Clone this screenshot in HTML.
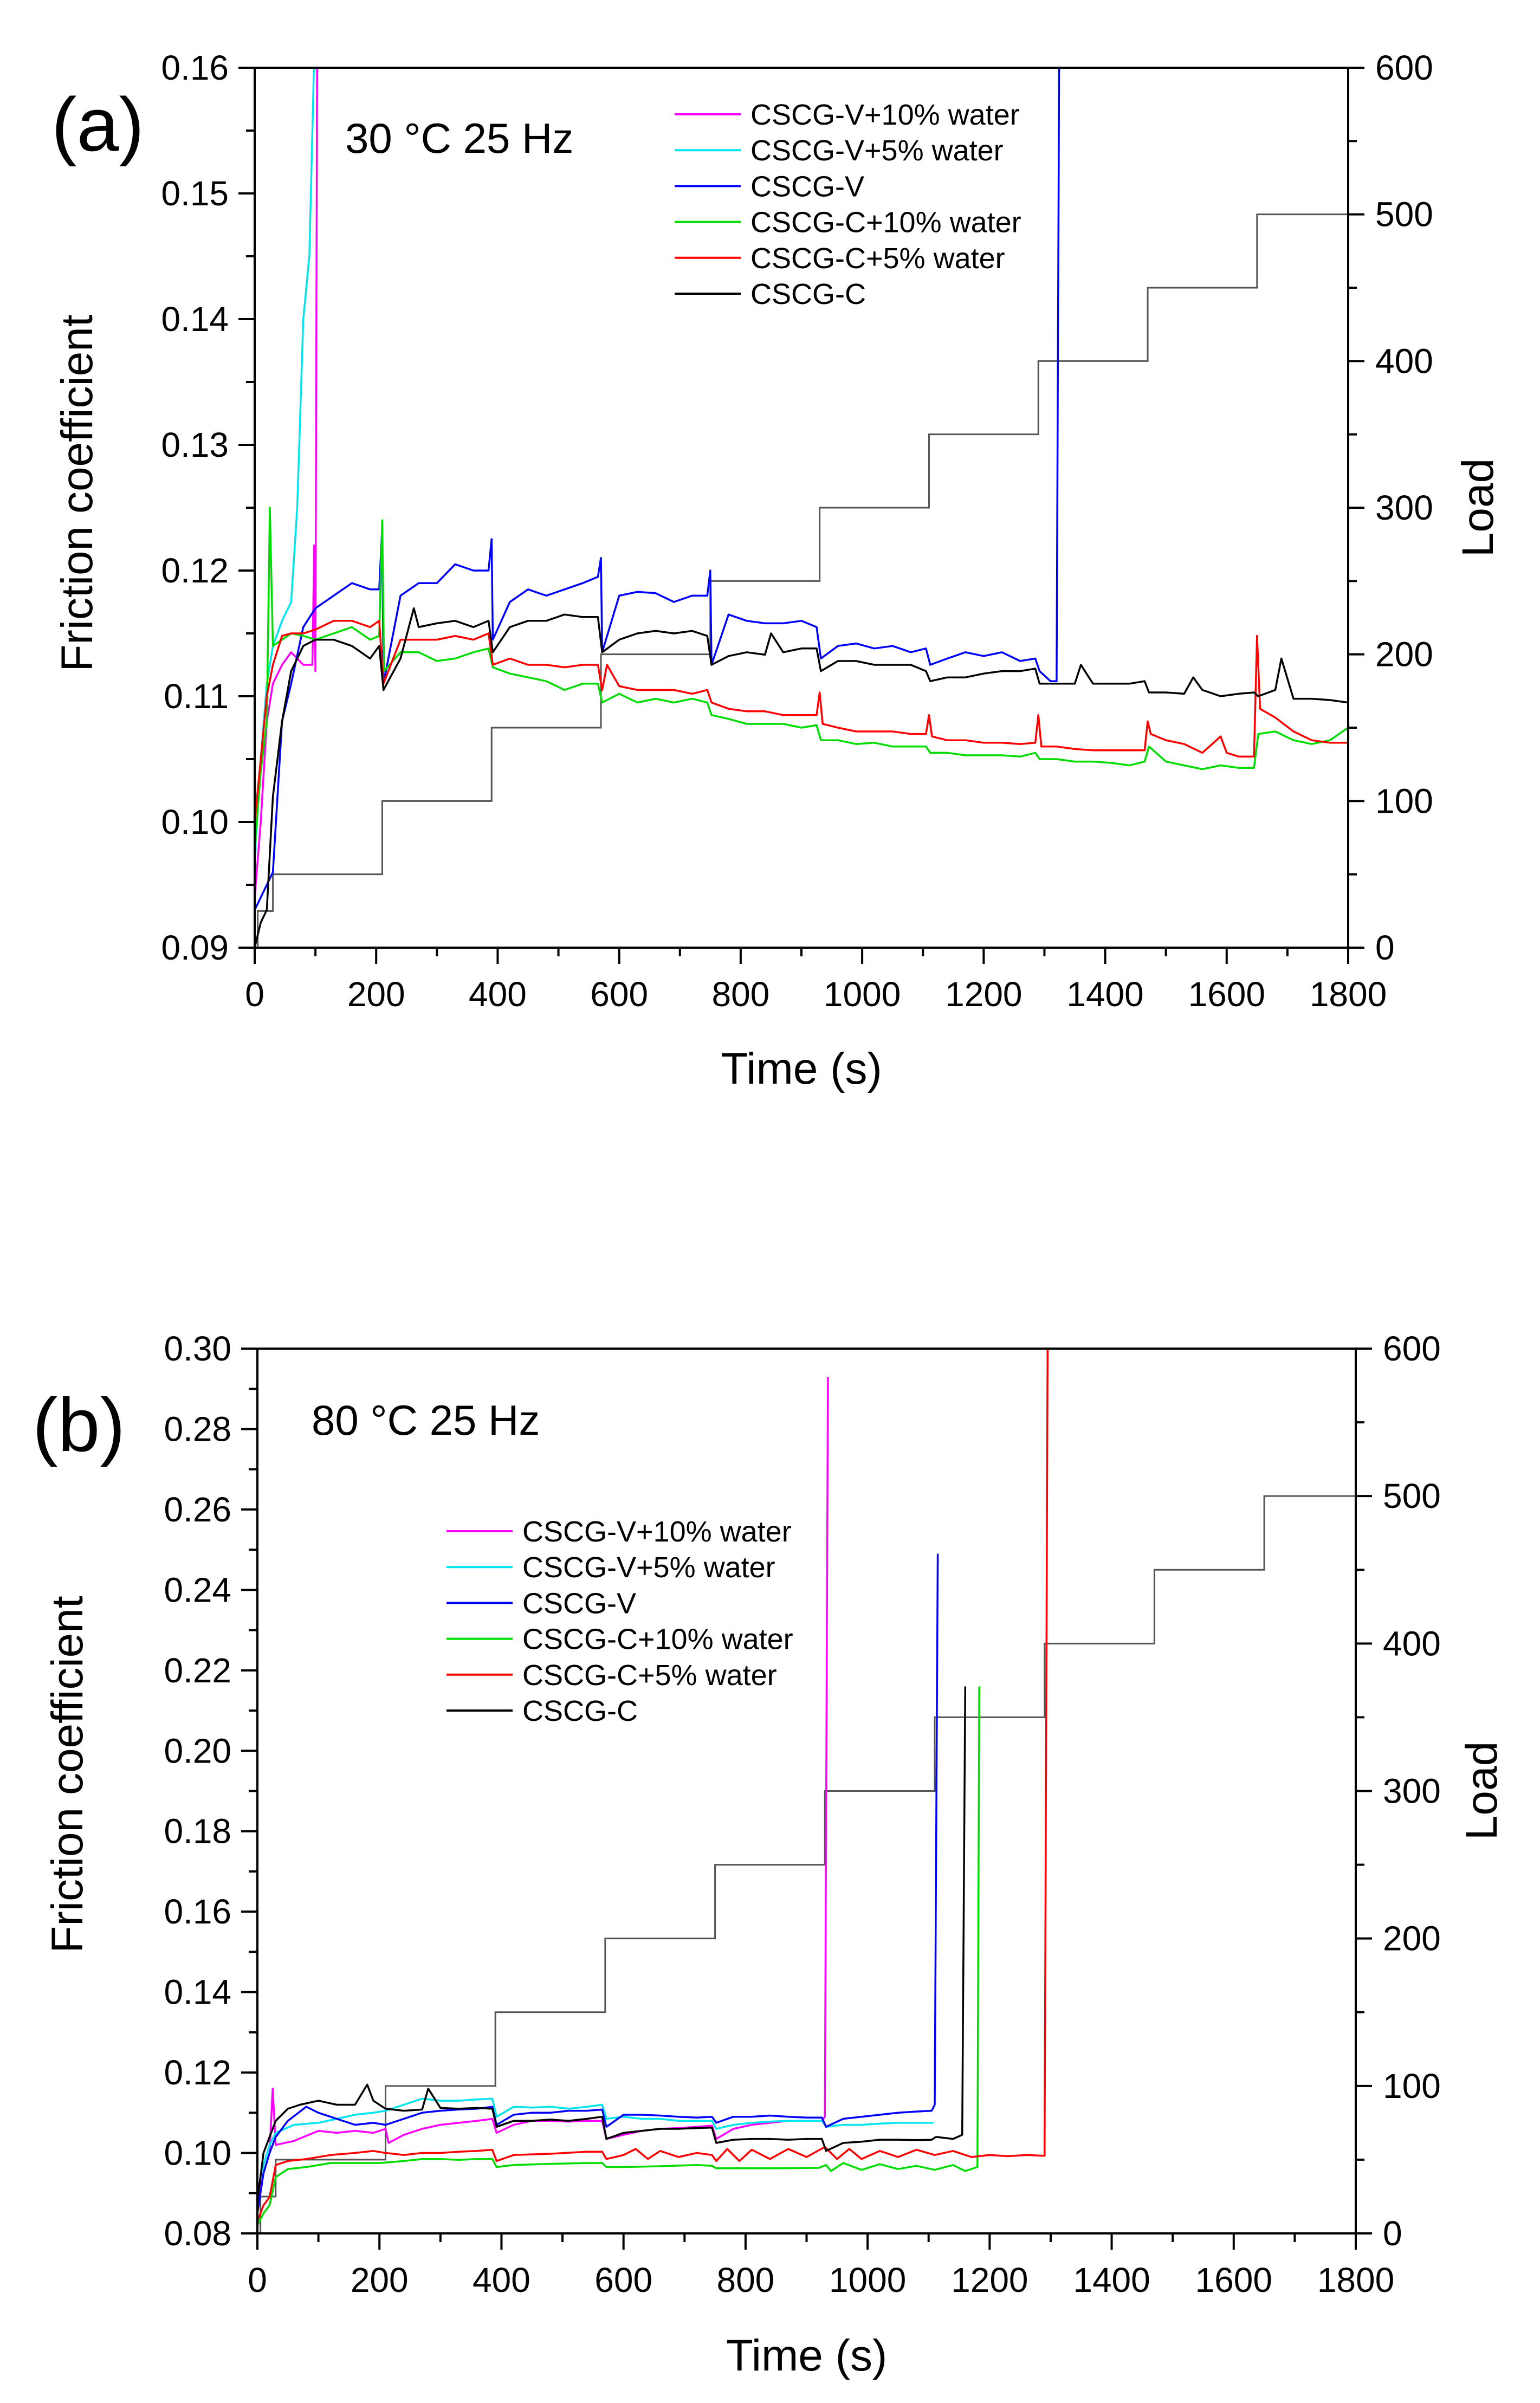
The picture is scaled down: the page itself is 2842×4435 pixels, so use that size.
<!DOCTYPE html>
<html><head><meta charset="utf-8"><title>Friction coefficient vs time</title>
<style>html,body{margin:0;padding:0;background:#fff;}svg{display:block;}</style></head>
<body>
<svg id="fig" xmlns="http://www.w3.org/2000/svg" width="2842" height="4435" viewBox="0 0 2842 4435" font-family="'Liberation Sans', Arial, sans-serif">
<rect width="2842" height="4435" fill="#fff"/>
</svg>
<script>
const xTicks = [0,200,400,600,800,1000,1200,1400,1600,1800];
const aYTicks = [0.09,0.10,0.11,0.12,0.13,0.14,0.15,0.16];
const bYTicks = [0.08,0.10,0.12,0.14,0.16,0.18,0.20,0.22,0.24,0.26,0.28,0.30];
const loadTicks = [0,100,200,300,400,500,600];
const seriesNames = ["CSCG-V+10% water","CSCG-V+5% water","CSCG-V","CSCG-C+10% water","CSCG-C+5% water","CSCG-C"];
const seriesColors = ["#ff00ff","#00e5ee","#0000ff","#00dd00","#ff0000","#000000"];

const aLoadT = [0,5,30,210,390,570,750,930,1110,1290,1470,1650,1800];
const aLoadV = [0,25,50,100,150,200,250,300,350,400,450,500,500];
const bLoadT = [0,5,30,210,390,570,750,930,1110,1290,1470,1650,1800];
const bLoadV = [0,25,50,100,150,200,250,300,350,400,450,500,500];

const aCT = [0,10,20,30,45,60,80,100,130,160,190,205,212,240,262,270,300,330,360,385,392,420,450,480,510,540,565,572,600,630,660,690,720,745,752,780,810,840,850,870,900,925,932,960,990,1020,1050,1080,1105,1112,1140,1170,1200,1230,1260,1285,1292,1320,1350,1360,1380,1410,1440,1465,1472,1500,1530,1545,1560,1590,1620,1645,1652,1680,1690,1710,1740,1770,1800];
const aCV = [0.090,0.092,0.093,0.102,0.108,0.112,0.114,0.1145,0.1145,0.114,0.113,0.114,0.1105,0.113,0.117,0.1155,0.1158,0.116,0.1155,0.116,0.1135,0.1155,0.116,0.116,0.1165,0.1163,0.1163,0.1135,0.1145,0.115,0.1152,0.115,0.1152,0.1148,0.1125,0.1132,0.1135,0.1133,0.115,0.1135,0.1138,0.1138,0.112,0.1128,0.1128,0.1125,0.1125,0.1125,0.112,0.1112,0.1115,0.1115,0.1118,0.112,0.112,0.1122,0.111,0.111,0.111,0.1125,0.111,0.111,0.111,0.1112,0.1103,0.1103,0.1102,0.1115,0.1105,0.110,0.1102,0.1103,0.110,0.1105,0.113,0.1098,0.1098,0.1097,0.1095];

const aVT = [0,10,20,30,45,60,80,100,130,160,190,205,210,212,240,270,300,330,360,385,390,392,420,450,480,510,540,565,570,572,600,630,660,690,720,745,750,752,780,810,840,870,900,925,932,960,990,1020,1050,1080,1105,1112,1140,1170,1200,1230,1260,1285,1292,1310,1320,1325];
const aVV = [0.093,0.094,0.095,0.096,0.108,0.111,0.1155,0.117,0.118,0.119,0.1185,0.1185,0.1235,0.111,0.118,0.119,0.119,0.1205,0.120,0.120,0.1225,0.1145,0.1175,0.1185,0.118,0.1185,0.119,0.1195,0.121,0.1135,0.118,0.1183,0.1182,0.1175,0.118,0.118,0.120,0.1125,0.1165,0.116,0.1158,0.1158,0.116,0.1155,0.113,0.114,0.1142,0.1138,0.114,0.1135,0.1138,0.1125,0.113,0.1135,0.1132,0.1135,0.1128,0.113,0.112,0.1112,0.1112,0.170];

const aV5T = [0,10,20,30,45,60,70,80,90,100];
const aV5V = [0.097,0.105,0.111,0.114,0.116,0.1175,0.125,0.140,0.145,0.165];

const aV10T = [0,10,20,30,45,60,80,95,98,100,103];
const aV10V = [0.094,0.100,0.108,0.111,0.1125,0.1135,0.1125,0.1125,0.122,0.112,0.165];

const aC10T = [0,10,20,25,30,45,60,80,100,130,160,190,205,210,213,240,270,300,330,360,385,392,420,450,480,510,540,565,572,600,630,660,690,720,745,752,780,810,840,870,900,925,932,960,990,1020,1050,1080,1105,1112,1140,1170,1200,1230,1260,1285,1292,1320,1350,1380,1410,1440,1465,1472,1500,1530,1560,1590,1620,1645,1652,1680,1710,1740,1770,1800];
const aC10V = [0.098,0.104,0.108,0.125,0.114,0.1145,0.115,0.1148,0.1145,0.115,0.1155,0.1145,0.1148,0.124,0.112,0.1135,0.1135,0.1128,0.113,0.1135,0.1138,0.1123,0.1118,0.1115,0.1112,0.1105,0.111,0.111,0.1095,0.1102,0.1095,0.1098,0.1095,0.1098,0.1095,0.1085,0.1082,0.1078,0.1078,0.1078,0.1075,0.1077,0.1065,0.1065,0.1062,0.1063,0.106,0.106,0.106,0.1055,0.1055,0.1053,0.1053,0.1053,0.1052,0.1055,0.105,0.105,0.1048,0.1048,0.1047,0.1045,0.1048,0.106,0.1048,0.1045,0.1042,0.1045,0.1043,0.1043,0.107,0.1072,0.1065,0.1062,0.1065,0.1075];

const aC5T = [0,10,20,30,45,60,80,100,130,160,190,205,212,240,270,300,330,360,385,392,420,450,480,510,540,565,572,580,600,630,660,690,720,745,752,780,810,840,870,900,925,930,935,960,990,1020,1050,1080,1105,1110,1115,1140,1170,1200,1230,1260,1285,1290,1295,1320,1350,1380,1410,1440,1465,1470,1475,1500,1530,1560,1590,1600,1620,1645,1650,1655,1680,1710,1740,1770,1800];
const aC5V = [0.100,0.105,0.110,0.1125,0.1148,0.115,0.115,0.1153,0.116,0.116,0.1155,0.116,0.111,0.1145,0.1145,0.1145,0.1148,0.1145,0.115,0.1125,0.113,0.1125,0.1125,0.1123,0.1125,0.1125,0.1105,0.1125,0.1108,0.1105,0.1105,0.1105,0.1102,0.1105,0.1095,0.109,0.1088,0.1088,0.1085,0.1085,0.1085,0.1103,0.1078,0.1075,0.1072,0.1072,0.1072,0.107,0.107,0.1085,0.1068,0.1065,0.1065,0.1063,0.1063,0.1062,0.1063,0.1085,0.106,0.106,0.1058,0.1057,0.1057,0.1057,0.1057,0.108,0.107,0.1065,0.1062,0.1055,0.1068,0.1055,0.1052,0.1052,0.1148,0.109,0.1083,0.1072,0.1065,0.1063,0.1063];

const bCT = [0,10,20,30,50,70,100,130,160,180,190,210,240,270,280,300,330,360,385,392,420,450,480,510,540,565,572,600,630,660,690,720,745,752,780,810,840,870,900,925,932,960,990,1020,1050,1080,1105,1112,1140,1155,1160];
const bCV = [0.088,0.100,0.104,0.108,0.111,0.112,0.113,0.112,0.112,0.117,0.113,0.111,0.1105,0.1108,0.116,0.1112,0.111,0.1112,0.111,0.1065,0.108,0.108,0.1083,0.108,0.1085,0.109,0.1035,0.105,0.1055,0.106,0.106,0.1062,0.1063,0.1025,0.1033,0.1035,0.1035,0.1033,0.1035,0.1035,0.1005,0.1025,0.1028,0.1033,0.1033,0.1032,0.1033,0.104,0.1035,0.1045,0.216];

const bVT = [0,10,20,30,50,80,100,130,160,190,210,240,270,300,330,360,385,392,420,450,480,510,540,565,572,600,630,660,690,720,745,752,780,810,840,870,900,925,932,960,990,1020,1050,1080,1105,1110,1115];
const bVV = [0.085,0.095,0.100,0.104,0.108,0.1115,0.110,0.1085,0.107,0.1075,0.107,0.1085,0.110,0.1105,0.1108,0.111,0.1115,0.107,0.1095,0.110,0.110,0.1105,0.1105,0.1108,0.1065,0.1095,0.1095,0.1093,0.109,0.1088,0.109,0.1075,0.109,0.109,0.1093,0.109,0.1088,0.1088,0.1065,0.1085,0.109,0.1095,0.110,0.1103,0.1105,0.112,0.249];

const bV5T = [0,10,20,30,60,100,130,160,190,210,240,270,300,330,360,385,392,420,450,480,510,540,565,572,600,630,660,690,720,745,752,780,810,840,870,900,925,932,960,990,1020,1050,1080,1108];
const bV5V = [0.090,0.097,0.102,0.105,0.107,0.1075,0.1085,0.1095,0.110,0.1105,0.112,0.1135,0.113,0.113,0.1133,0.1135,0.109,0.1115,0.1113,0.1115,0.111,0.1115,0.112,0.1085,0.109,0.1085,0.1085,0.108,0.108,0.108,0.106,0.107,0.1075,0.1078,0.108,0.108,0.108,0.1065,0.107,0.107,0.1073,0.1075,0.1075,0.1075];

const bV10T = [0,10,20,25,30,60,100,130,160,190,210,215,240,270,300,330,360,385,392,420,450,480,510,540,565,572,600,630,660,690,720,745,752,780,810,840,870,900,925,930,935];
const bV10V = [0.088,0.095,0.100,0.116,0.102,0.103,0.1055,0.105,0.1055,0.105,0.106,0.1025,0.1045,0.106,0.107,0.1075,0.108,0.1085,0.105,0.107,0.108,0.108,0.1078,0.108,0.108,0.1035,0.1045,0.1055,0.106,0.1062,0.1065,0.1068,0.1035,0.106,0.107,0.1075,0.108,0.108,0.108,0.109,0.293];

const bC10T = [0,10,20,30,50,80,120,160,200,240,270,300,330,360,385,392,420,480,540,565,572,600,660,720,745,752,800,860,920,932,940,960,990,1020,1050,1080,1110,1140,1160,1180,1183];
const bC10V = [0.082,0.085,0.087,0.094,0.096,0.0965,0.0975,0.0975,0.0975,0.098,0.0985,0.0985,0.0983,0.0985,0.0985,0.0965,0.097,0.0973,0.0975,0.0975,0.0965,0.0965,0.0967,0.097,0.0968,0.0962,0.0962,0.0962,0.0963,0.097,0.0955,0.0975,0.0958,0.0972,0.096,0.0968,0.0958,0.097,0.0955,0.0965,0.216];

const bC5T = [0,10,20,30,50,80,120,160,190,210,240,270,300,330,360,385,392,420,480,540,565,572,600,620,640,660,690,720,745,752,770,790,810,840,870,900,930,950,970,990,1020,1050,1080,1110,1140,1170,1200,1230,1260,1290,1295];
const bC5V = [0.083,0.087,0.089,0.097,0.098,0.0985,0.0995,0.100,0.1005,0.100,0.0995,0.100,0.100,0.1003,0.1005,0.1008,0.098,0.0995,0.0998,0.1003,0.1003,0.0985,0.0995,0.101,0.0985,0.1005,0.099,0.100,0.0995,0.098,0.101,0.098,0.1008,0.0985,0.101,0.099,0.1015,0.0985,0.101,0.0985,0.1005,0.099,0.1008,0.0995,0.1005,0.099,0.0995,0.0992,0.0995,0.0993,0.300];

const NS = "http://www.w3.org/2000/svg";
const svg = document.getElementById('fig');
function mk(tag, attrs, parent){
  const e = document.createElementNS(NS, tag);
  for (const k in attrs) e.setAttribute(k, attrs[k]);
  (parent||svg).appendChild(e);
  return e;
}

function drawPanel(cfg){
  const g = mk('g', {});
  
  
  const L=cfg.L,R=cfg.R,T=cfg.T,B=cfg.B;
  const xs = t => L + (t-0)/1800*(R-L);
  const ys = v => B - (v-cfg.ymin)/(cfg.ymax-cfg.ymin)*(B-T);
  const ls = v => B - v/600*(B-T);

  const clip = mk('clipPath', {id:'clip-'+cfg.id}, g);
  mk('rect', {x:L, y:T, width:R-L, height:B-T}, clip);

  let d = '';
  cfg.loadT.forEach((t,i)=>{
    const x = xs(t), y = ls(cfg.loadV[i]);
    if(i===0) d += 'M'+x+','+y; else d += ' L'+x+','+ls(cfg.loadV[i-1])+' L'+x+','+y;
  });
  const ll = mk('path', {d:d, fill:'none', stroke:'#555', 'stroke-width':3, 'clip-path':'url(#clip-'+cfg.id+')'}, g);
  
  

  cfg.series.forEach((s,si)=>{
    let p = '';
    s.t.forEach((t,i)=>{ p += (i?' L':'M') + xs(t).toFixed(1) + ',' + ys(s.v[i]).toFixed(1); });
    const el = mk('path', {d:p, fill:'none', stroke:seriesColors[si], 'stroke-width':3.5, 'stroke-linejoin':'round', 'clip-path':'url(#clip-'+cfg.id+')'}, g);
    
    
  });

  const ax = mk('g', {stroke:'#000', 'stroke-width':4, fill:'none'}, g);
  
  
  mk('path', {d:`M${L},${T} L${R},${T} M${L},${T-2} L${L},${B+2} M${R},${T-2} L${R},${B+2} M${L-2},${B} L${R+2},${B}`}, ax);

  const xt = mk('g', {}, g);
  
  
  for(let t=0;t<=1800;t+=100){
    const maj = t%200===0;
    mk('line', {x1:xs(t), x2:xs(t), y1:B, y2:B+(maj?30:16), stroke:'#000','stroke-width':4}, xt);
  }
  xTicks.forEach(t=>{
    const tx = mk('text', {x:xs(t), y:B+108, 'font-size':64, 'text-anchor':'middle', fill:'#000'}, xt);
    tx.textContent = t;
    
    
  });

  const yt = mk('g', {}, g);
  
  
  const step = cfg.yTicks[1]-cfg.yTicks[0];
  for(let k=0;k<=(cfg.yTicks.length-1)*2;k++){
    const v = cfg.ymin + k*step/2;
    mk('line', {x1:L, x2:L-(k%2===0?30:16), y1:ys(v), y2:ys(v), stroke:'#000','stroke-width':4}, yt);
  }
  cfg.yTicks.forEach(v=>{
    const tx = mk('text', {x:L-48, y:ys(v)+22, 'font-size':64, 'text-anchor':'end', fill:'#000'}, yt);
    tx.textContent = v.toFixed(2);
    
    
  });

  const rt = mk('g', {}, g);
  
  
  for(let v=0;v<=600;v+=50){
    mk('line', {x1:R, x2:R+(v%100===0?30:16), y1:ls(v), y2:ls(v), stroke:'#000','stroke-width':4}, rt);
  }
  loadTicks.forEach(v=>{
    const tx = mk('text', {x:R+50, y:ls(v)+22, 'font-size':64, 'text-anchor':'start', fill:'#000'}, rt);
    tx.textContent = v;
    
    
  });

  const xtitle = mk('text', {x:(L+R)/2, y:cfg.xTitleY, 'font-size':82, 'text-anchor':'middle', fill:'#000'}, g);
  xtitle.textContent = 'Time (s)';
  
  
  const ytitle = mk('text', {x:0, y:0, 'font-size':82, 'text-anchor':'middle', fill:'#000', transform:`translate(${cfg.yTitleX},${cfg.yTitleY}) rotate(-90)`}, g);
  ytitle.textContent = 'Friction coefficient';
  
  
  const rtitle = mk('text', {x:0, y:0, 'font-size':82, 'text-anchor':'middle', fill:'#000', transform:`translate(${cfg.rTitleX},${cfg.rTitleY}) rotate(-90)`}, g);
  rtitle.textContent = 'Load';
  
  

  const pl = mk('text', {x:cfg.labelX, y:cfg.labelY, 'font-size':140, fill:'#000'}, g);
  pl.textContent = cfg.label;
  
  
  const cond = mk('text', {x:cfg.condX, y:cfg.condY, 'font-size':78, fill:'#000'}, g);
  cond.textContent = cfg.cond;
  
  

  const lg = mk('g', {}, g);
  
  
  seriesNames.forEach((n,i)=>{
    const y = cfg.legY + i*66.2;
    const ent = mk('g', {}, lg);
    
    
    mk('line', {x1:cfg.legX, x2:cfg.legX+122, y1:y, y2:y, stroke:seriesColors[i], 'stroke-width':4}, ent);
    const tx = mk('text', {x:cfg.legX+140, y:y+19, 'font-size':54, fill:'#000'}, ent);
    tx.textContent = n;
  });
}

drawPanel({id:'panel-a', L:470, R:2488, T:125, B:1749, ymin:0.09, ymax:0.16, yTicks:aYTicks,
  loadT:aLoadT, loadV:aLoadV,
  series:[{t:aV10T,v:aV10V},{t:aV5T,v:aV5V},{t:aVT,v:aVV},{t:aC10T,v:aC10V},{t:aC5T,v:aC5V},{t:aCT,v:aCV}],
  xTitleY:2000, yTitleX:170, yTitleY:910, rTitleX:2755, rTitleY:937,
  label:'(a)', labelX:95, labelY:278, cond:'30 °C 25 Hz', condX:637, condY:282,
  legX:1245, legY:211});

drawPanel({id:'panel-b', L:475, R:2502, T:2489, B:4122, ymin:0.08, ymax:0.30, yTicks:bYTicks,
  loadT:bLoadT, loadV:bLoadV,
  series:[{t:bV10T,v:bV10V},{t:bV5T,v:bV5V},{t:bVT,v:bVV},{t:bC10T,v:bC10V},{t:bC5T,v:bC5V},{t:bCT,v:bCV}],
  xTitleY:4375, yTitleX:152, yTitleY:3275, rTitleX:2762, rTitleY:3305,
  label:'(b)', labelX:60, labelY:2678, cond:'80 °C 25 Hz', condX:575, condY:2648,
  legX:824, legY:2826});
</script>
</body></html>
